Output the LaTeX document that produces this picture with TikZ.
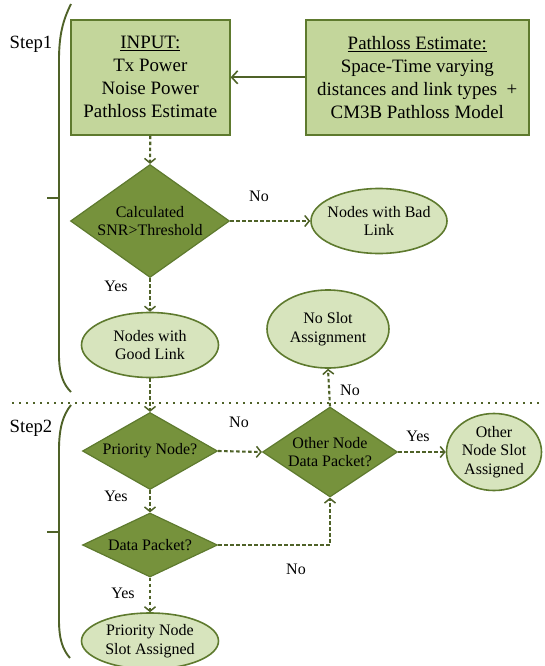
\documentclass[tikz,border=0pt]{standalone}
\usepackage{fontspec}
\setmainfont{Liberation Serif}
\usetikzlibrary{shapes.geometric,arrows.meta}
\definecolor{boxfill}{RGB}{195,214,155}
\definecolor{dkgreen}{RGB}{79,98,40}
\definecolor{bordergreen}{RGB}{94,122,46}
\definecolor{diafill}{RGB}{118,146,60}
\definecolor{ellfill}{RGB}{215,228,189}
\tikzset{
  bigbox/.style={draw=bordergreen, line width=1.6pt, fill=boxfill, inner sep=0pt, anchor=north west,
    font=\fontsize{18.9}{23}\selectfont, align=center},
  dia/.style={diamond, draw=bordergreen, line width=1.2pt, fill=diafill, inner sep=0pt},
  ell/.style={ellipse, draw=bordergreen, line width=1.6pt, fill=ellfill, inner sep=0pt},
  txt/.style={font=\fontsize{16}{18.5}\selectfont, align=center, inner sep=0pt},
  lbl/.style={font=\fontsize{16}{18.5}\selectfont, inner sep=0pt},
  steplbl/.style={font=\fontsize{18.7}{23}\selectfont, inner sep=0pt},
  flow/.style={dkgreen, line width=2.1pt, dash pattern=on 3.6pt off 2.4pt,
    -{Straight Barb[length=4.5pt,width=11pt,line width=1.5pt]}},
  solidflow/.style={dkgreen, line width=2pt, -{Straight Barb[length=6pt,width=13pt,line width=1.6pt]}},
  brace/.style={dkgreen, line width=1.9pt},
}
\begin{document}
\begin{tikzpicture}[x=1pt,y=-1pt]
\useasboundingbox (0,0) rectangle (544,666);

% Step brackets
\draw[brace] (71,4) .. controls (63,20) and (59,35) .. (59,60) -- (59,355) .. controls (59,375) and (64,385) .. (71,392);
\draw[brace] (47,198) -- (59,198);
\draw[brace] (71,405) .. controls (63,415) and (59,428) .. (59,450) -- (59,620) .. controls (59,640) and (63,650) .. (70,658);
\draw[brace] (47,532) -- (59,532);
\node[steplbl] (s1) at (31,44) {Step1};
\node[steplbl] (s2) at (31,428) {Step2};

% separator
\draw[dkgreen, line width=1.8pt, dash pattern=on 1.6pt off 5.4pt] (12,403) -- (540,403);

% boxes
\node[bigbox, minimum width=159pt, minimum height=115pt] (input) at (70,19)
  {\underline{INPUT:}\\Tx Power\\Noise Power\\Pathloss Estimate};
\node[bigbox, minimum width=223pt, minimum height=115pt] (path) at (305,19)
  {\underline{Pathloss Estimate:}\\Space-Time varying\\distances and link types~~+\\CM3B Pathloss Model};

% step 1 shapes
\node[dia, minimum width=159pt, minimum height=113pt, label={[txt]center:Calculated\\SNR>Threshold}] (snr) at (150,221) {};
\node[ell, minimum width=136pt, minimum height=65pt, label={[txt]center:Nodes with Bad\\Link}] (bad) at (379,221) {};
\node[ell, minimum width=137pt, minimum height=65pt, label={[txt]center:Nodes with\\Good Link}] (good) at (150,345) {};
\node[ell, minimum width=122pt, minimum height=78pt, label={[txt]center:No Slot\\Assignment}] (noslot) at (328,329) {};

% step 2 shapes
\node[dia, minimum width=135pt, minimum height=77pt, label={[txt]center:Priority Node?}] (prio) at (150,451) {};
\node[dia, minimum width=135pt, minimum height=90pt, label={[txt]center:Other Node\\Data Packet?}] (other) at (330,452) {};
\node[ell, minimum width=95pt, minimum height=77pt, label={[txt]center:Other\\Node Slot\\Assigned}] (otherslot) at (494,452) {};
\node[dia, minimum width=135pt, minimum height=64pt, label={[txt]center:Data Packet?}] (data) at (150,545) {};
\node[ell, minimum width=137pt, minimum height=56pt, label={[txt]center:Priority Node\\Slot Assigned}] (prioslot) at (150,641) {};

% connectors
\draw[solidflow] (path.west) -- (input.east);
\draw[flow] (input.south) -- (snr.north);
\draw[flow] (snr.east) -- (bad.west);
\draw[flow] (snr.south) -- (good.north);
\draw[flow] (good.south) -- (prio.north);
\draw[flow] (prio.east) -- (other.west);
\draw[flow] (other.north) -- (noslot.south);
\draw[flow] (other.east) -- (otherslot.west);
\draw[flow] (prio.south) -- (data.north);
\draw[flow] (data.east) -| (other.south);
\draw[flow] (data.south) -- (prioslot.north);

% labels
\node[lbl] (l1) at (259,196) {No};
\node[lbl] (l2) at (116,286) {Yes};
\node[lbl] (l3) at (239,422) {No};
\node[lbl] (l4) at (350,390) {No};
\node[lbl] (l5) at (418,436) {Yes};
\node[lbl] (l6) at (116,496) {Yes};
\node[lbl] (l7) at (296,569) {No};
\node[lbl] (l8) at (123,593) {Yes};
\end{tikzpicture}
\end{document}
